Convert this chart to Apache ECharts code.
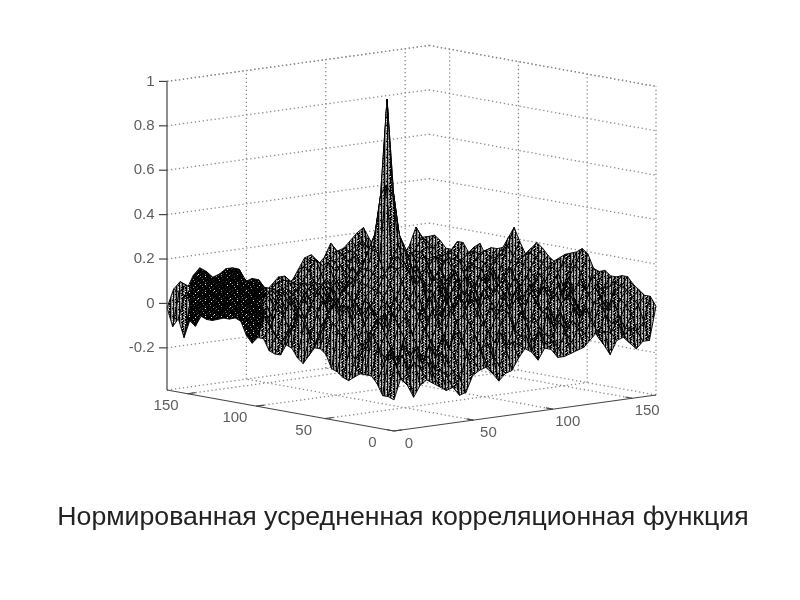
<!DOCTYPE html>
<html><head><meta charset="utf-8">
<style>html,body{margin:0;padding:0;background:#fff}#c{width:800px;height:600px;filter:blur(0.45px)}</style>
<script src="https://cdn.jsdelivr.net/npm/echarts@6/dist/echarts.min.js"></script>
</head><body><div id="c"></div>
<script>
const titleText = "Нормированная усредненная корреляционная функция";
const xTicks = [0,50,100,150];
const yTicks = [0,50,100,150];
const zTicks = [-0.2,0,0.2,0.4,0.6,0.8,1];
const zTickLabels = ["-0.2","0","0.2","0.4","0.6","0.8","1"];
// surface heights in hundredths; row = y step, column = x step
const surfaceZ = [
[-25, -16,-19,-25,-20,-18,-20,-22,-24,-23,-27, -26,-19,-17,-16,-19,-23,-20,-19,-14,-10, -12,-16,-11,-12,-16,-16,-15,-14,-13,-10, -7,-13,-18,-12,-11,-14,-17,-14,-14, 1],
[-24, -9,-17,-15,-10,-14,-11,-18,-15,-19,-17, -21,-9,-13,-8,-15,-13,-17,-10,-7,-9, -5,-12,-4,-10,-9,-13,-6,-11,-5,-8, -2,-10,-8,-9,-4,-11,-8,-10,-6, 5],
[-24, -6,-13,-7,-14,-5,-12,-9,-16,-8,-14, -10,-4,-12,-2,-9,-7,-14,-3,-9,-2, -6,-1,-9,-3,-7,-8,-1,-7,-2,-5, 3,-5,-9,-1,-6,-2,-9,-3,1, 5],
[-19, -11,-5,-12,-3,-9,-4,-13,-5,-11,-2, -8,-1,-5,3,-6,-10,-2,-8,1,5, -3,4,-6,1,-9,2,-5,2,-6,3, -2,2,-7,3,-4,4,-6,1,4, 7],
[-16, -3,-9,-5,-11,-1,2,-7,-12,-4,-9, -2,-8,3,5,-1,-6,1,-5,3,6, 1,-4,5,-2,-6,2,4,-3,5,7, 2,-2,-6,3,5,-1,-4,3,7, 9],
[-16, 2,-6,1,-7,4,7,-2,-8,1,-5, 3,-4,8,2,-6,-1,5,-2,7,3, -3,4,9,1,-5,6,0,5,8,2, -4,3,-2,6,9,3,-1,6,8, 12],
[-16, -5,1,6,-3,9,3,-6,-2,6,-1, 8,0,4,-5,-2,6,10,3,-3,-8, 2,9,4,-4,1,10,5,-2,3,8, 1,7,2,-3,5,8,2,-2,9, 12],
[-18, -8,-3,4,7,2,-4,1,7,11,3, -3,6,-2,-8,4,11,3,-5,-10,-2, 7,3,-5,2,8,4,-3,6,11,5, -2,3,8,1,-4,3,9,5,7, 11],
[-20, -11,-6,-1,4,-5,-9,5,10,4,-4, -8,2,-6,-1,9,5,-4,-12,-5,4, 10,-2,-8,5,1,-6,2,9,4,-3, 6,10,3,-6,-1,7,3,-3,6, 11],
[-19, -7,0,-8,-2,-10,-3,8,2,-6,-10, -2,5,1,6,2,-6,-13,-7,2,9, 3,-7,-1,7,-5,-9,5,2,-6,3, 9,4,-5,-9,4,9,-2,1,8, 13],
[-17, -3,5,-4,-9,-6,4,1,-7,-12,-3, 4,-3,7,1,-8,-14,-6,1,8,2, -5,-10,4,-3,-11,-2,7,-4,-8,6, 3,-6,-10,-2,8,2,-7,4,10, 12],
[-16, 1,-4,-10,-5,2,7,-5,-11,-6,3, -5,-9,2,-6,-12,-4,3,9,1,-7, -12,-2,8,-8,-4,5,-1,-9,2,8, -5,-11,-4,6,1,-6,-1,9,3, 13],
[-10, 4,-6,-2,3,8,1,-9,-3,5,-2, -8,1,-7,-10,2,8,-2,3,-6,-13, -5,6,1,-9,4,9,-6,-2,7,1, -10,-3,7,2,-8,3,8,1,11, 19],
[-8, 6,-1,5,9,2,-7,-3,6,1,-8, 3,7,-3,4,10,1,-8,-4,-12,-3, 8,-2,-8,3,9,-3,-9,6,2,-9, -2,8,1,-7,5,10,2,9,14, 21],
[-8, -2,6,10,3,-6,-1,7,2,-9,-5, 8,2,5,11,3,-7,-12,-9,-2,7, 1,-9,-5,8,2,-8,-4,9,-4,-1, 7,2,-7,-1,9,3,-5,4,12, 19],
[-12, -7,1,4,-5,2,8,3,-8,-12,1, 5,-4,9,2,-6,-11,-3,4,8,1, -8,-3,6,-1,-9,1,7,-2,6,10, 1,-8,-2,7,2,-6,1,10,14, 18],
[-16, -4,-9,-2,3,9,4,-6,-10,-3,6, -3,3,-5,-10,-2,5,11,15,4,-7, -11,2,9,-5,3,9,1,-7,2,8, -4,-10,5,9,-3,-8,6,12,8, 17],
[-14, 1,-5,5,10,3,-5,-9,-2,7,2, -7,-1,-9,-4,6,14,18,12,-2,-10, -4,7,2,-8,6,3,-5,-9,7,3, -7,2,8,1,-7,3,9,4,11, 15],
[-10, 5,2,8,1,-6,-10,-1,6,3,-6, -9,4,-2,7,13,19,20,16,8,-3, 5,-3,-9,1,8,-4,-10,3,9,-3, 2,7,-1,-8,2,8,1,7,10, 13],
[-9, -2,7,1,-7,-11,-3,6,2,-7,-11, -2,6,3,10,17,20,24,21,14,3, -6,-10,-2,7,1,-8,-1,8,2,-7, 5,-2,-9,-3,7,1,-6,5,12, 15],
[-14, -6,-1,-8,-12,-4,4,1,-8,-12,-3, 5,-1,7,10,14,15,22,28,25,18, 6,-2,6,-3,-9,2,9,1,-8,3, -3,-10,-2,9,3,-7,2,9,14, 18],
[-14, -9,-5,-11,-3,3,-2,-7,-3,5,-1, -4,3,9,11,16,22,55,50,32,25, 12,3,-6,2,7,-4,3,9,-3,-8, 2,7,-1,-8,5,10,3,11,16, 20],
[-13, -7,-10,-4,2,-5,-9,-1,6,2,-6, 3,8,4,12,18,28,50,93,50,28, 15,7,-3,5,-2,6,1,-6,4,8, -3,-9,2,8,1,-6,5,12,14, 17],
[-8, -3,-8,1,6,-2,-6,3,8,-3,-8, -1,9,1,13,17,25,32,50,55,22, 14,9,2,-4,3,8,-5,2,9,1, -6,-1,7,2,-7,-1,7,9,11, 14],
[-8, 1,-4,4,-2,-7,1,6,-2,-9,-4, 6,2,7,10,14,18,25,28,22,15, 8,2,-6,-1,7,2,-8,5,1,-7, 2,6,-3,-9,3,8,1,6,13, 19],
[-11, -4,2,-3,-8,-1,5,-1,-8,-3,3, -2,5,-1,4,9,14,17,19,14,6, 1,-6,-2,6,-4,-9,-1,7,-4,4, 9,1,-7,1,8,2,-4,8,17, 25],
[-8, 2,-2,-8,-3,4,-1,-7,-2,4,-3, -7,1,7,0,4,8,11,8,3,-4, -8,-1,5,-3,-8,2,6,-3,-7,3, 5,-4,-8,5,9,-1,4,10,13, 20],
[-2, 4,-6,-2,3,-3,-8,-2,4,-2,-8, -1,6,1,-5,-1,3,-3,-8,-2,5, 2,-5,-2,3,6,-3,-7,4,1,-6, -2,5,-1,-6,2,7,-2,7,11, 15],
[-1, 1,-2,4,-1,-6,1,5,-1,-6,-2, 5,1,-4,2,6,-2,-7,-3,3,-3, -7,1,6,-1,-5,2,6,-2,-6,3, 7,-2,-6,4,-1,-5,3,8,10, 14],
[-2, 3,5,1,-4,2,6,1,-5,1,4, -1,-5,3,7,1,-6,2,6,-1,-7, 3,8,2,-4,3,8,1,-5,4,9, 2,-5,1,6,-3,2,8,10,13, 14],
[-2, 5,2,-2,3,7,2,-4,2,6,1, -4,2,6,1,-4,2,7,1,-6,2, 8,3,-3,2,7,1,-4,3,8,3, -4,2,7,1,5,9,4,7,11, 10],
[-3, 1,-2,3,7,2,-3,1,5,1,-3, 2,5,0,-3,3,6,1,-4,1,6, 2,-3,3,8,2,-4,2,7,2,-3, 3,8,2,6,10,3,-2,5,12, 15],
[-4, -1,3,6,2,-2,2,5,1,-2,2, 5,1,-3,2,5,0,-3,2,6,2, -3,2,7,3,-2,3,8,2,-2,4, 8,3,7,11,4,-1,4,8,10, 13],
[-4, 2,5,1,-1,3,6,2,-1,3,5, 1,-2,2,4,-1,-3,1,5,1,-2, 2,6,2,-2,2,7,3,-1,4,9, 4,8,12,5,0,5,9,7,6, 10],
[-3, 4,1,-1,3,6,2,-1,3,6,2, -2,1,4,0,-3,1,4,1,-2,1, 5,2,-2,3,8,3,-2,4,9,5, 9,13,6,1,5,9,6,3,8, 14],
[-8, 1,-1,3,6,2,0,4,7,3,-1, 1,4,1,-3,-1,3,0,-3,1,5, 1,-2,3,9,4,-1,5,10,6,10, 14,7,2,6,9,7,2,6,10, 14],
[-6, -1,2,6,3,1,4,8,4,1,2, 5,2,-2,-2,2,0,-3,0,4,2, -1,4,10,5,1,6,11,7,11,15, 9,4,7,10,8,3,5,7,8, 10],
[-14, 2,5,3,2,5,8,5,2,4,7, 3,0,-2,1,0,-2,0,3,2,1, 6,11,7,3,8,12,8,12,16,11, 6,8,10,7,4,4,6,7,7, 10],
[-6, 4,7,3,7,9,6,3,6,8,4, 3,2,1,-1,0,1,3,2,3,8, 12,9,5,10,13,9,13,17,14,9, 9,9,7,6,5,7,9,11,10, 13],
[-10, 5,8,4,9,11,9,6,8,9,8, 7,4,3,2,1,3,4,3,5,9, 11,11,7,10,14,12,13,15,17,12, 10,10,8,8,6,6,9,15,12, 15],
[-2, 6,9,5,11,14,12,9,10,12,12, 11,5,6,5,-1,2,5,5,2,7, 12,13,8,11,17,13,14,17,20,22, 16,13,12,11,10,7,11,19,14, 14]
];

// mesh-line texture tiles: k black, d dark, g grey, w light
const tileDark = [
"kkkkdkkkkkkgkkkk",
"kkgkkkkkdkkkkkkd",
"kkkkkkwkkkkkkgkk",
"kdkkkgkkkkdkkkkk",
"kkkkkkkkgkkkkwkk",
"kkkwkkkdkkkkkkkk",
"kkkkkkkkkkgkkkdk",
"kgkkkdkkkkkkkkkk"];
const tileMid = [
"kggkggwkgkkggkgg",
"kgwkggkkggkgwkgg",
"kggkgkkggkkggkwg",
"dggkggkkgwkggkgk",
"kggkwgkggkkgkkgg",
"kgkkggkgwkkggkgg",
"kggkggkkggdggkgk",
"kgwkgkkggkkgwkgg"];
const tileColors = {k:'#000', d:'#2a2a2a', g:'#8c8c8c', w:'#f0f0f0'};
function makeTile(rows) {
  const cv = document.createElement('canvas');
  cv.width = rows[0].length; cv.height = rows.length;
  const ctx = cv.getContext('2d');
  rows.forEach((r, y) => [...r].forEach((ch, x) => { ctx.fillStyle = tileColors[ch]; ctx.fillRect(x, y, 1, 1); }));
  return {image: cv, repeat: 'repeat'};
}
const fillDark = makeTile(tileDark), fillMid = makeTile(tileMid);

// oblique projection of the 3D box onto the page plane
const axisLimit = 165, zMin = -0.39, zMax = 1;
function project(x, y, z) {
  return [394 + x * 262 / axisLimit - y * 227 / axisLimit,
          431 - x * 36 / axisLimit - y * 41 / axisLimit - (z - zMin) * 222];
}
const cells = surfaceZ.length - 1;
const step = axisLimit / cells;
function vertex(i, j) { return project(i * step, j * step, surfaceZ[j][i] / 100); }

const cellData = [];
for (let s = 2 * cells - 2; s >= 0; s--)
  for (let j = Math.min(s, cells - 1); j >= 0 && s - j < cells; j--)
    cellData.push([s - j, j]);

const series = [];
function seg(a, b, style) {
  series.push({type:'line', silent:true, symbol:'none', animation:false, z:style.z,
    data:[a, b], lineStyle:{color:style.color, width:style.width, type:style.type}});
}
const dotted = {color:'#8a8a8a', width:1.3, type:[1.3,2.7], z:1};
const solid = {color:'#444', width:1.2, type:'solid', z:5};
const L = axisLimit;
// walls
zTicks.forEach(z => {
  seg(project(0, L, z), project(L, L, z), dotted);
  seg(project(L, L, z), project(L, 0, z), dotted);
});
seg(project(0, L, zMax), project(L, L, zMax), dotted);
seg(project(L, L, zMax), project(L, 0, zMax), dotted);
xTicks.filter(v => v > 0).forEach(x => {
  seg(project(x, L, zMin), project(x, L, zMax), dotted);
  seg(project(x, 0, zMin), project(x, L, zMin), dotted);
});
yTicks.forEach(y => {
  seg(project(L, y, zMin), project(L, y, zMax), dotted);
  if (y > 0) seg(project(0, y, zMin), project(L, y, zMin), dotted);
});
seg(project(L, 0, zMin), project(L, L, zMin), dotted);
seg(project(0, L, zMin), project(L, L, zMin), dotted);
// axes
seg(project(0, L, zMin), project(0, 0, zMin), solid);
seg(project(0, 0, zMin), project(L, 0, zMin), solid);
seg(project(0, L, zMin), project(0, L, zMax), solid);
zTicks.forEach(z => { const p = project(0, L, z); seg([p[0] - 8, p[1]], p, solid); });
xTicks.forEach(x => seg(project(x, 0, zMin), project(x, 5, zMin), solid));
yTicks.forEach(y => seg(project(0, y, zMin), project(5, y, zMin), solid));

// surface
series.push({
  type:'custom', coordinateSystem:'cartesian2d', animation:false, silent:true, clip:false,
  progressive:0, z:3, data:cellData, encode:{x:0, y:1},
  renderItem(params, api) {
    const i = api.value(0), j = api.value(1);
    const pts = [vertex(i,j), vertex(i+1,j), vertex(i+1,j+1), vertex(i,j+1)].map(p => api.coord(p));
    const fill = (pts[0][0] > 188 && pts[0][0] < 262) ? fillDark : fillMid;
    return {type:'polygon', shape:{points:pts}, style:{fill, stroke:'#000', lineWidth:0.9}};
  }
});

// tick labels
const labelStyle = {color:'#333', fontFamily:'"Liberation Sans",Arial,sans-serif', fontSize:15};
const labelData = [];
xTicks.forEach(x => { const p = project(x, 0, zMin);
  labelData.push({value:[p[0] + 15, p[1] + 13], label:{show:true, formatter:String(x), position:'inside', ...labelStyle}}); });
yTicks.forEach(y => { const p = project(0, y, zMin);
  labelData.push({value:[p[0] - 21.5, p[1] + 12], label:{show:true, formatter:String(y), position:'inside', ...labelStyle}}); });
zTicks.forEach((z, k) => { const p = project(0, L, z);
  labelData.push({value:[p[0] - 12, p[1]], label:{show:true, formatter:zTickLabels[k], position:'left', distance:0, ...labelStyle}}); });
series.push({type:'scatter', silent:true, animation:false, symbolSize:1, itemStyle:{color:'transparent'}, z:6, data:labelData});

const chart = echarts.init(document.getElementById('c'), null, {renderer:'canvas'});
chart.setOption({
  animation:false,
  backgroundColor:'#fff',
  title:{text:titleText, left:403, textAlign:'center', top:504, itemGap:0, padding:0,
    textStyle:{color:'#222', fontWeight:'normal', fontSize:26.7, fontFamily:'"Liberation Sans",Arial,sans-serif'}},
  grid:{left:0, right:0, top:0, bottom:0},
  xAxis:{type:'value', min:0, max:800, show:false},
  yAxis:{type:'value', min:0, max:600, inverse:true, show:false},
  series
});
</script></body></html>
